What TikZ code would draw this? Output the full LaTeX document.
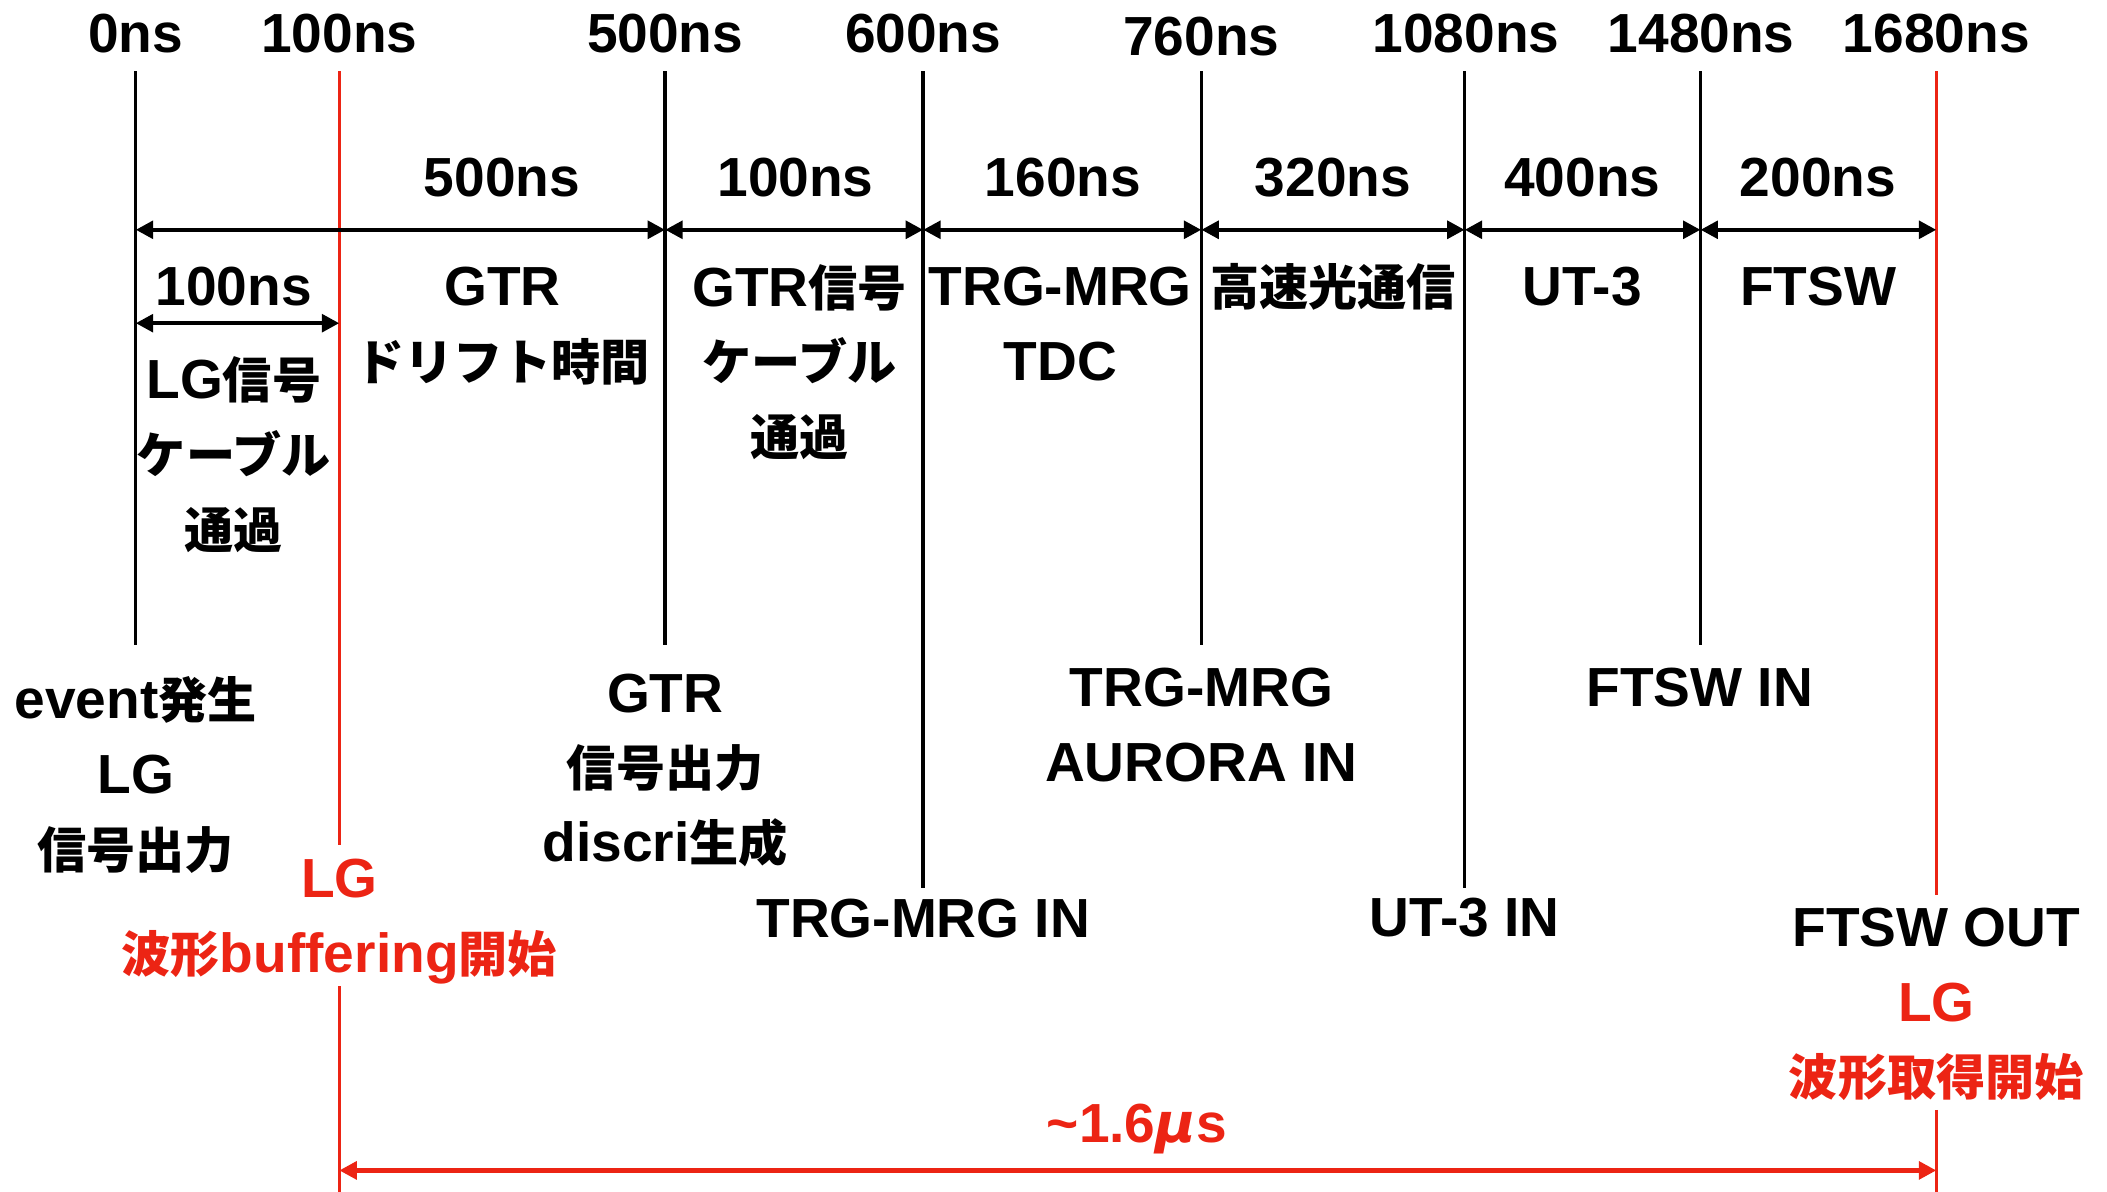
\documentclass[tikz,border=0pt]{standalone}
\usepackage{fontspec}
\setmainfont{Liberation Sans}
\newfontfamily\jpfont{Noto Sans CJK JP}[Scale=0.892]
\newfontfamily\mufont{DejaVu Sans}
\usetikzlibrary{arrows.meta}
\definecolor{lgred}{RGB}{236,36,20}
\newcommand{\jt}[1]{{\jpfont #1}}
\begin{document}
\begin{tikzpicture}[x=0.01cm,y=-0.01cm,
  lbl/.style={font=\fontsize{11.66pt}{15.8pt}\selectfont\bfseries, align=center, anchor=base, inner sep=0pt},
  redlbl/.style={lbl, text=lgred},
  tick/.style={line width=0.75pt, black},
  redtick/.style={line width=0.75pt, lgred},
  span/.style={line width=0.95pt, {Triangle[length=0.13cm,width=0.13cm]}-{Triangle[length=0.13cm,width=0.13cm]}},
  redspan/.style={span, draw=lgred, fill=lgred}
]
\useasboundingbox (0,0) rectangle (1568,887);

% ---- tick coordinates
\coordinate (a0)    at (101,53);    \coordinate (b0)    at (101,480);
\coordinate (a100)  at (252.5,53);  \coordinate (b100)  at (252.5,629);
\coordinate (c100)  at (252.5,734); \coordinate (d100)  at (252.5,887);
\coordinate (a500)  at (495,53);    \coordinate (b500)  at (495,480);
\coordinate (a600)  at (687,53);    \coordinate (b600)  at (687,661);
\coordinate (a760)  at (894,53);    \coordinate (b760)  at (894,480);
\coordinate (a1080) at (1090,53);   \coordinate (b1080) at (1090,661);
\coordinate (a1480) at (1265.5,53); \coordinate (b1480) at (1265.5,480);
\coordinate (a1680) at (1441,53);   \coordinate (b1680) at (1441,666);
\coordinate (c1680) at (1441,826);  \coordinate (d1680) at (1441,887);

% ---- red ticks first
\draw[redtick] (a100) -- (b100);
\draw[redtick] (c100) -- (d100);
\draw[redtick] (a1680) -- (b1680);
\draw[redtick] (c1680) -- (d1680);
% ---- black ticks
\draw[tick] (a0) -- (b0);
\draw[tick] (a500) -- (b500);
\draw[tick] (a600) -- (b600);
\draw[tick] (a760) -- (b760);
\draw[tick] (a1080) -- (b1080);
\draw[tick] (a1480) -- (b1480);

% ---- span arrows
\coordinate (s0)    at (101,171);
\coordinate (s500)  at (495,171);
\coordinate (s600)  at (687,171);
\coordinate (s760)  at (894,171);
\coordinate (s1080) at (1090,171);
\coordinate (s1480) at (1265.5,171);
\coordinate (s1680) at (1441,171);
\draw[span] (s0) -- (s500);
\draw[span] (s500) -- (s600);
\draw[span] (s600) -- (s760);
\draw[span] (s760) -- (s1080);
\draw[span] (s1080) -- (s1480);
\draw[span] (s1480) -- (s1680);
\coordinate (r0)   at (101,240.5);
\coordinate (r100) at (252.5,240.5);
\draw[span] (r0) -- (r100);
\coordinate (q100)  at (252.5,871);
\coordinate (q1680) at (1441,871);
\draw[redspan] (q100) -- (q1680);

% ---- top time labels
\node[lbl] (T0)    at (101,39)    {0ns};
\node[lbl] (T100)  at (252.5,39)  {100ns};
\node[lbl] (T500)  at (495,39)    {500ns};
\node[lbl] (T600)  at (687,39)    {600ns};
\node[lbl] (T760)  at (894,41)    {760ns};
\node[lbl] (T1080) at (1091,39)   {1080ns};
\node[lbl] (T1480) at (1266,39)   {1480ns};
\node[lbl] (T1680) at (1441,39)   {1680ns};

% ---- durations
\node[lbl] (D1) at (373.5,146) {500ns};
\node[lbl] (D2) at (592,146)   {100ns};
\node[lbl] (D3) at (791,146)   {160ns};
\node[lbl] (D4) at (992,146)   {320ns};
\node[lbl] (D5) at (1177.5,146) {400ns};
\node[lbl] (D6) at (1353,146)  {200ns};
\node[lbl] (D7) at (174,227)   {100ns};

% ---- segment descriptions (base = last line)
\node[lbl] (P1) at (174,408)  {LG\jt{信号}\\\jt{ケーブル}\\\jt{通過}};
\node[lbl] (P2) at (374,283)  {GTR\\\jt{ドリフト時間}};
\node[lbl] (P3) at (595,339)  {GTR\jt{信号}\\\jt{ケーブル}\\\jt{通過}};
\node[lbl] (P4) at (789,283)  {TRG-MRG\\TDC};
\node[lbl] (P5) at (992,227)  {\jt{高速光通信}};
\node[lbl] (P6) at (1177.5,227) {UT-3};
\node[lbl] (P7) at (1353,227) {FTSW};

% ---- event labels
\node[lbl] (E0)    at (101,646)  {event\jt{発生}\\LG\\\jt{信号出力}};
\node[lbl] (E500)  at (495,641)  {GTR\\\jt{信号出力}\\discri\jt{生成}};
\node[lbl] (E760)  at (894,581.5) {TRG-MRG\\AURORA IN};
\node[lbl] (E1480) at (1265,526) {FTSW IN};
\node[lbl] (E600)  at (687,698)  {TRG-MRG IN};
\node[lbl] (E1080) at (1090,697) {UT-3 IN};
\node[lbl] (E1680) at (1441,704.5) {FTSW OUT};
\node[redlbl] (R1680) at (1441,815.5) {LG\\\jt{波形取得開始}};
\node[redlbl] (R100)  at (252.5,723.5) {LG\\\jt{波形}buffering\jt{開始}};
\node[redlbl] (RT)    at (846,850) {\textasciitilde 1.6{\mufont\itshape μ}s};
\end{tikzpicture}
\end{document}
